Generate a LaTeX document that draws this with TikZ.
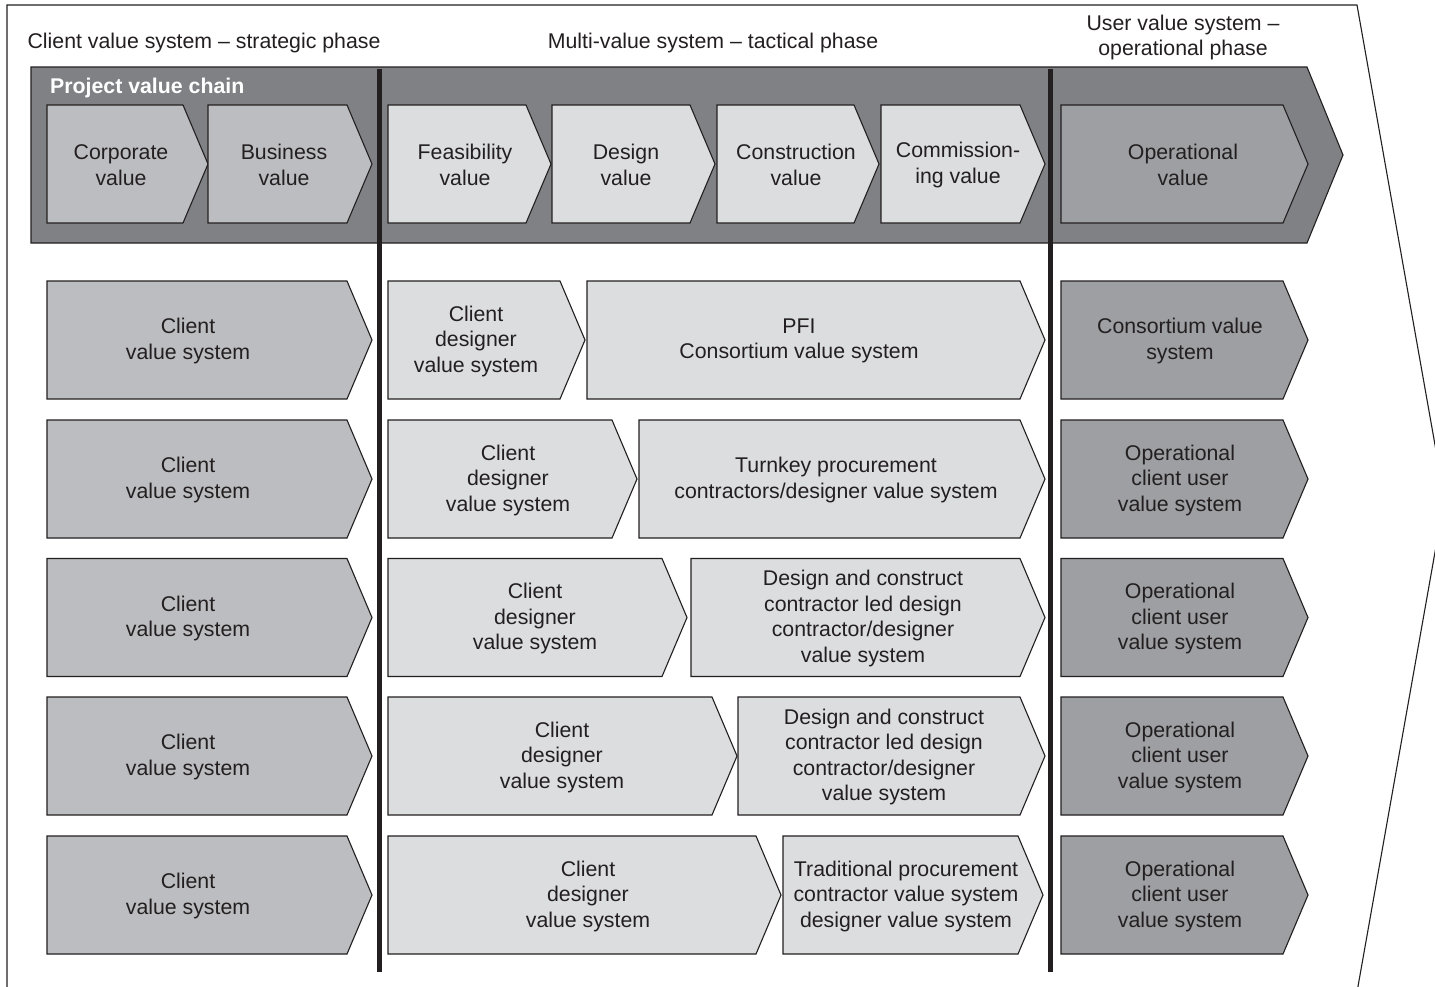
\documentclass[tikz,border=0pt]{standalone}
\usepackage{fontspec}
\setmainfont{Liberation Sans}
\definecolor{inkc}{HTML}{231F20}
\definecolor{bandc}{HTML}{808184}
\definecolor{stratc}{HTML}{BCBDC0}
\definecolor{tactc}{HTML}{DCDDDF}
\definecolor{operc}{HTML}{9D9FA2}
\newcommand\chev[7]{%
  \draw[chevline,fill=#5] (#2,#4) -- ({#3-25},#4) -- (#3,{#4+59}) -- ({#3-25},{#4+118}) -- (#2,{#4+118}) -- cycle;
  \node[lbl] (#1) at (#6,{#4+60}) {#7};
}
\begin{document}
\begin{tikzpicture}[x=1pt,y=-1pt,
  chevline/.style={draw=inkc,line width=1.1pt,line join=miter},
  lbl/.style={text=inkc,align=center,inner sep=0pt,font=\fontsize{21.3}{25.5}\selectfont},
  phase/.style={text=inkc,align=center,inner sep=0pt,font=\fontsize{21.3}{25.5}\selectfont},
  divider/.style={draw=inkc,line width=5pt}]
\useasboundingbox (0,0) rectangle (1435,986);
\fill[white] (0,0) rectangle (1435,986);
% outer frame arrow
\begin{scope}
\clip (0,0) rectangle (1435,986);
\draw[draw=inkc,line width=1.1pt] (7,992) -- (7,5) -- (1357,5) -- (1444.5,498.5) -- (1357,992);
\end{scope}
% phase labels
\node[phase] (ph1) at (204,43) {Client value system -- strategic phase};
\node[phase] (ph2) at (713,43) {Multi-value system -- tactical phase};
\node[phase] (ph3) at (1183,37.5) {User value system --\\operational phase};
% project value chain band
\draw[chevline,fill=bandc] (31,67) -- (1307,67) -- (1343,155) -- (1307,243) -- (31,243) -- cycle;
\node[anchor=west,inner sep=0pt,text=white,font=\fontsize{21.3}{25.5}\selectfont\bfseries] (pvc) at (50,88) {Project value chain};
\chev{corp}{47}{208}{105}{stratc}{121}{Corporate\\value}
\chev{bus}{208}{372}{105}{stratc}{284}{Business\\value}
\chev{feas}{388}{551}{105}{tactc}{465}{Feasibility\\value}
\chev{des}{552}{715}{105}{tactc}{626}{Design\\value}
\chev{cons}{717}{879}{105}{tactc}{796}{Construction\\value}
\chev{comm}{881}{1045}{105}{tactc}{958}{Commission-\\ing value}
\chev{oper}{1061}{1308}{105}{operc}{1183}{Operational\\value}
% row 1
\chev{ca}{47}{372}{281}{stratc}{188}{Client\\value system}
\chev{da}{388}{585}{281}{tactc}{476}{Client\\designer\\value system}
\chev{pa}{587}{1045}{281}{tactc}{799}{PFI\\Consortium value system}
\chev{ua}{1061}{1308}{281}{operc}{1180}{Consortium value\\system}
% row 2
\chev{cb}{47}{372}{420}{stratc}{188}{Client\\value system}
\chev{db}{388}{637}{420}{tactc}{508}{Client\\designer\\value system}
\chev{pb}{639}{1045}{420}{tactc}{836}{Turnkey procurement\\contractors/designer value system}
\chev{ub}{1061}{1308}{420}{operc}{1180}{Operational\\client user\\value system}
% row 3
\chev{cc}{47}{372}{558.5}{stratc}{188}{Client\\value system}
\chev{dc}{388}{687}{558.5}{tactc}{535}{Client\\designer\\value system}
\chev{pc}{691}{1045}{558.5}{tactc}{863}{Design and construct\\contractor led design\\contractor/designer\\value system}
\chev{uc}{1061}{1308}{558.5}{operc}{1180}{Operational\\client user\\value system}
% row 4
\chev{cd}{47}{372}{697}{stratc}{188}{Client\\value system}
\chev{dd}{388}{737}{697}{tactc}{562}{Client\\designer\\value system}
\chev{pd}{738}{1045}{697}{tactc}{884}{Design and construct\\contractor led design\\contractor/designer\\value system}
\chev{ud}{1061}{1308}{697}{operc}{1180}{Operational\\client user\\value system}
% row 5
\chev{ce}{47}{372}{836}{stratc}{188}{Client\\value system}
\chev{de}{388}{781}{836}{tactc}{588}{Client\\designer\\value system}
\chev{pe}{783}{1043}{836}{tactc}{906}{Traditional procurement\\contractor value system\\designer value system}
\chev{ue}{1061}{1308}{836}{operc}{1180}{Operational\\client user\\value system}
% phase dividers
\coordinate (d1t) at (379,69);
\coordinate (d1b) at (379,972);
\coordinate (d2t) at (1050,69);
\coordinate (d2b) at (1050,972);
\draw[divider] (d1t) -- (d1b);
\draw[divider] (d2t) -- (d2b);
\end{tikzpicture}
\end{document}
